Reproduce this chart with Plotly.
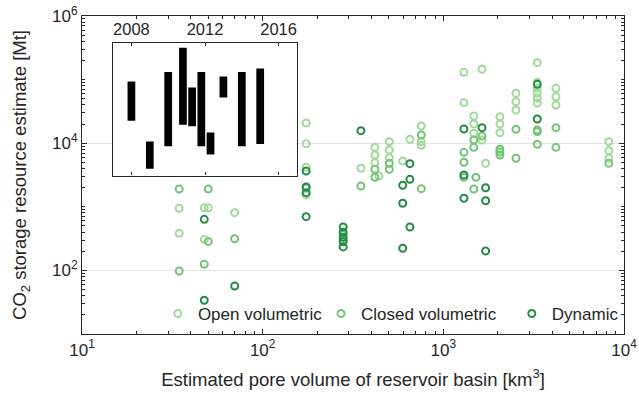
import plotly.graph_objects as go

# ---------------- data ----------------
open_x = [34.5, 34.5, 47.5, 50, 47.5, 70,
          174, 174, 174, 174,
          350,
          418, 418, 418, 440,
          502, 502, 502,
          596, 653,
          755, 755, 755,
          1300, 1300,
          1475, 1475, 1475,
          1637, 1637, 1714,
          2056, 2056, 2056,
          2523, 2523, 2523,
          3311, 3311, 3311, 3311, 3311, 3311,
          4198, 4198, 4198,
          8241, 8241, 8241]
open_y = [946, 383, 968, 968, 308, 809,
          20800, 9820, 4180, 1540,
          4030,
          8610, 6520, 4940, 3050,
          10570, 7820, 5920,
          5250, 11510,
          18620, 10570, 9270,
          130300, 43350,
          26790, 20040, 14320,
          145200, 11220, 4830,
          26120, 20040, 14620,
          60950, 44980, 33270,
          184500, 90570, 73790, 61520, 51400, 42850,
          72940, 53830, 39900,
          10570, 7620, 5790]

closed_x = [34.5, 34.5, 50, 50, 47.5, 70,
            174, 279, 279,
            350,
            418, 418,
            502, 502,
            755, 755,
            1300, 1300, 1300,
            1475, 1475, 1514, 1475,
            1637,
            2056, 2056, 2056,
            2523, 2523,
            3311, 3311, 3311,
            4198, 4198,
            8241]
closed_y = [1905, 98, 1905, 286, 125, 315,
            1977, 363, 302,
            2123,
            3890, 2910,
            4830, 3890,
            13460, 1930,
            7190, 5010, 2910,
            11220, 8610, 2910, 1905,
            12970,
            8020, 7280, 6520,
            16520, 5790,
            16140, 15170, 9620,
            17540, 8610,
            4830]

dyn_x = [47.5, 47.5, 70,
         174, 174, 174, 174,
         279, 279, 279, 279, 279,
         350,
         596, 596, 596,
         653, 653, 653,
         1300, 1300, 1300,
         1637, 1714, 1714, 1714,
         3311, 3311]
dyn_y = [635, 33.9, 56.9,
         3656, 2046, 1667, 700,
         481, 398, 331, 282, 234,
         15740,
         2178, 1135, 223,
         4764, 2704, 481,
         16710, 3162, 1361,
         17540, 1995, 1247, 202,
         84330, 24040]

inset_year = [2008, 2009, 2010, 2010.8, 2011.3, 2011.8, 2012.3, 2013, 2014, 2015]
inset_low = [22300, 3890, 8810, 19300, 18200, 8810, 6520, 51900, 8810, 9620]
inset_high = [92700, 10450, 131500, 317700, 74600, 131500, 14600, 111200, 131500, 148300]

x_tickvals = [10, 100, 1000, 10000]
x_ticktext = ["10<sup>1</sup>", "10<sup>2</sup>", "10<sup>3</sup>", "10<sup>4</sup>"]
y_tickvals = [100, 10000, 1000000]
y_ticktext = ["10<sup>2</sup>", "10<sup>4</sup>", "10<sup>6</sup>"]
inset_ticks = [2008, 2012, 2016]

# ---------------- styling ----------------
C_OPEN = "#a1d99b"
C_CLOSED = "#74c476"
C_DYN = "#238b45"
AX = "#262626"
FONT = "Liberation Sans, Arial, Helvetica, sans-serif"


def minor_vals(lo_exp, hi_exp, skip):
    vals = []
    for e in range(lo_exp, hi_exp):
        for m in range(1, 10):
            v = m * 10 ** e
            if v not in skip:
                vals.append(v)
    return vals


fig = go.Figure()


def add_series(xs, ys, color, name, legend):
    fig.add_trace(go.Scatter(
        x=xs, y=ys, mode="markers", name=name, legend=legend,
        marker=dict(symbol="circle-open", size=7, color=color,
                    line=dict(width=2, color=color)),
    ))


add_series(open_x, open_y, C_OPEN, "Open volumetric", "legend")
add_series(closed_x, closed_y, C_CLOSED, "Closed volumetric", "legend2")
add_series(dyn_x, dyn_y, C_DYN, "Dynamic", "legend3")

fig.add_trace(go.Bar(
    x=inset_year, base=inset_low,
    y=[h - l for h, l in zip(inset_high, inset_low)],
    width=0.42, marker=dict(color="black", line=dict(width=0)),
    xaxis="x2", yaxis="y2", showlegend=False,
))

leg_common = dict(orientation="h", y=0.063, xanchor="left", yanchor="middle",
                  bgcolor="rgba(0,0,0,0)", font=dict(size=17), itemwidth=30)

fig.update_layout(
    width=639, height=404,
    margin=dict(l=82, r=15, t=16, b=70, autoexpand=False),
    paper_bgcolor="white", plot_bgcolor="white",
    font=dict(family=FONT, color=AX, size=17),
    xaxis=dict(
        type="log", range=[1, 4], domain=[0, 1], automargin=False,
        showline=True, linecolor=AX, linewidth=1.2, mirror="ticks",
        ticks="inside", ticklen=5, tickcolor=AX, tickwidth=1,
        tickmode="array", tickvals=x_tickvals, ticktext=x_ticktext,
        tickfont=dict(size=17),
        minor=dict(ticks="inside", ticklen=3, tickcolor=AX, tickmode="array",
                   tickvals=minor_vals(1, 4, set(x_tickvals)), showgrid=False),
        showgrid=False, zeroline=False,
        title=dict(text="Estimated pore volume of reservoir basin [km<sup>3</sup>]",
                   font=dict(size=18.5), standoff=14),
    ),
    yaxis=dict(
        type="log", range=[1, 6], domain=[0, 1], automargin=False,
        showline=True, linecolor=AX, linewidth=1.2, mirror="ticks",
        ticks="inside", ticklen=5, tickcolor=AX, tickwidth=1,
        tickmode="array", tickvals=y_tickvals, ticktext=y_ticktext,
        tickfont=dict(size=17),
        minor=dict(ticks="inside", ticklen=3, tickcolor=AX, tickmode="array",
                   tickvals=minor_vals(1, 6, set(y_tickvals)), showgrid=False),
        showgrid=True, gridcolor="#e3e3e3", gridwidth=1, zeroline=False,
        title=dict(text="CO<sub>2</sub> storage resource estimate [Mt]",
                   font=dict(size=18.5), standoff=20),
    ),
    xaxis2=dict(
        domain=[0.0572, 0.3967], anchor="y2", range=[2007, 2017], side="top",
        automargin=False,
        showline=True, linecolor=AX, linewidth=1.2, mirror="ticks",
        ticks="inside", ticklen=3, tickcolor=AX,
        tickmode="array", tickvals=inset_ticks, tickfont=dict(size=16.5),
        showgrid=False, zeroline=False,
    ),
    yaxis2=dict(
        domain=[0.4984, 0.9151], anchor="x2", type="log", range=[3.484, 5.575],
        automargin=False,
        showline=True, linecolor=AX, linewidth=1.2, mirror=True,
        ticks="", showticklabels=False, showgrid=False, zeroline=False,
    ),
    legend=dict(x=0.140, **leg_common),
    legend2=dict(x=0.441, **leg_common),
    legend3=dict(x=0.793, **leg_common),
    showlegend=True,
)

fig.write_html("out.html",
               config={"displayModeBar": False},
               post_script="document.body.style.margin='0';"
                           "document.body.style.overflow='hidden';")
